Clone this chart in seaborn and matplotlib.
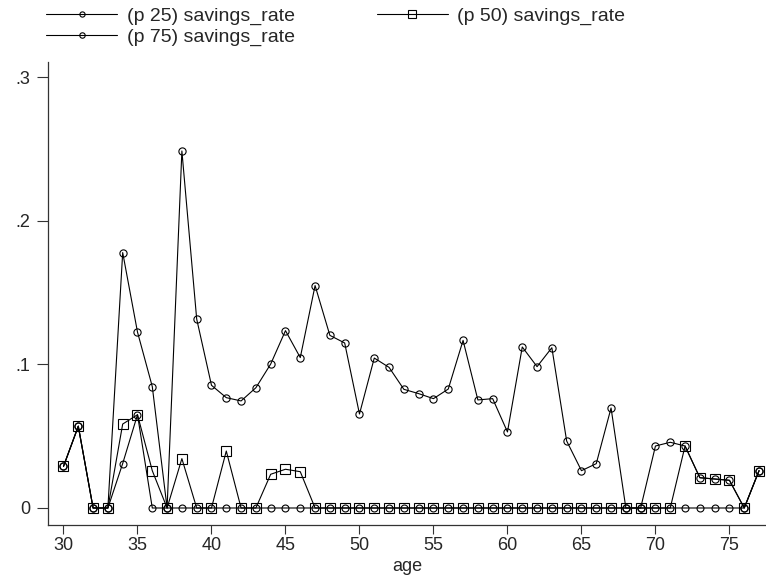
import matplotlib
matplotlib.use("Agg")
import matplotlib.pyplot as plt
import seaborn as sns
import pandas as pd
import numpy as np

ages = list(range(30, 78))
p25 = [0.029, 0.057, 0, 0, 0.031, 0.065, 0, 0, 0, 0,
       0, 0, 0, 0, 0, 0, 0, 0, 0, 0,
       0, 0, 0, 0, 0, 0, 0, 0, 0, 0,
       0, 0, 0, 0, 0, 0, 0, 0, 0, 0,
       0, 0, 0, 0, 0, 0, 0, 0.026]
p50 = [0.029, 0.057, 0, 0, 0.0585, 0.065, 0.026, 0, 0.0344, 0,
       0, 0.0397, 0, 0, 0.0235, 0.027, 0.0253, 0, 0, 0,
       0, 0, 0, 0, 0, 0, 0, 0, 0, 0,
       0, 0, 0, 0, 0, 0, 0, 0, 0, 0,
       0, 0, 0.0432, 0.0211, 0.0202, 0.0193, 0, 0.026]
p75 = [0.029, 0.057, 0, 0, 0.178, 0.1226, 0.0846, 0, 0.2488, 0.1317,
       0.0855, 0.0769, 0.0746, 0.0838, 0.1003, 0.1236, 0.1048, 0.155, 0.1203, 0.115,
       0.0655, 0.1045, 0.098, 0.0827, 0.0797, 0.0762, 0.0829, 0.1168, 0.0753, 0.0762,
       0.053, 0.1122, 0.0985, 0.1117, 0.0467, 0.026, 0.0309, 0.0697, 0, 0,
       0.0432, 0.0458, 0.0432, 0.0211, 0.0202, 0.0193, 0, 0.026]
labels = ["(p 25) savings_rate", "(p 50) savings_rate", "(p 75) savings_rate"]
xticks = [30, 35, 40, 45, 50, 55, 60, 65, 70, 75]
yticks = [0, 0.1, 0.2, 0.3]
yticklabels = ["0", ".1", ".2", ".3"]

sns.set_style("white")
plt.rcParams['font.family'] = ['Liberation Sans', 'DejaVu Sans']

fig = plt.figure(figsize=(7.66, 5.76), dpi=100)
ax = fig.add_axes([48/766, 1 - 525/576, 1 - 48/766, (525 - 62)/576])

series = [p25, p50, p75]
markers = ["o", "s", "o"]
msizes = [5.0, 7.0, 5.2]
handles = []
for vals, lab, mk, ms in zip(series, labels, markers, msizes):
    df = pd.DataFrame({"age": ages, "value": vals})
    sns.lineplot(data=df, x="age", y="value", ax=ax, color="black",
                 linewidth=0.8, marker=mk, markersize=ms,
                 markerfacecolor="none", markeredgecolor="black",
                 markeredgewidth=0.8, label=lab, legend=False)
    handles.append(ax.lines[-1])

ax.set_xlim(28.953, 77.47)
ax.set_ylim(-0.01185, 0.3108)
ax.set_xticks(xticks)
ax.set_yticks(yticks)
ax.set_yticklabels(yticklabels)
ax.set_xlabel("age", fontsize=13, labelpad=2.5)
ax.set_ylabel("")
ax.tick_params(axis="x", labelsize=13, length=6.5, width=0.8,
               color="#333333", direction="out", bottom=True, pad=2.5)
ax.tick_params(axis="y", labelsize=13, length=7.9, width=0.8,
               color="#333333", direction="out", left=True, pad=5)
for s in ["top", "right"]:
    ax.spines[s].set_visible(False)
for s in ["left", "bottom"]:
    ax.spines[s].set_color("#333333")
    ax.spines[s].set_linewidth(0.9)

order = [handles[0], handles[2], handles[1]]
order_labels = [labels[0], labels[2], labels[1]]
fig.legend(order, order_labels, loc="upper left",
           bbox_to_anchor=(46/766, 1 - 7/576), ncol=2, frameon=False,
           fontsize=14, handlelength=3.66, handletextpad=0.5,
           columnspacing=4.2, labelspacing=0.15, borderpad=0,
           borderaxespad=0, markerscale=0.75)

fig.savefig("out.png", dpi=100)
